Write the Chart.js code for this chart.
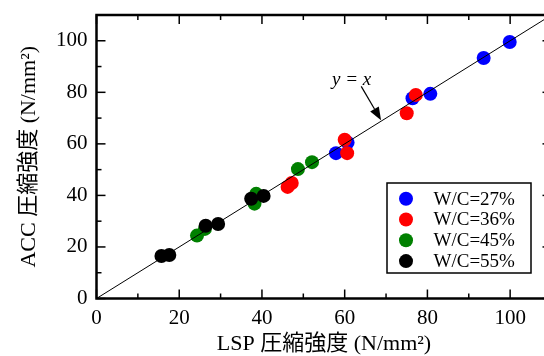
<!DOCTYPE html>
<html>
<head>
<meta charset="utf-8">
<script src="https://cdn.jsdelivr.net/npm/chart.js@4/dist/chart.umd.min.js"></script>
<style>
  html, body { margin: 0; padding: 0; overflow: hidden; background: #fff; }
  canvas { display: block; }
</style>
</head>
<body>
<canvas id="chart" width="560" height="356"></canvas>
<script>
// Compressive strength: LSP (x) vs ACC (y), grouped by water-cement ratio
const seriesLabels = ['W/C=27%', 'W/C=36%', 'W/C=45%', 'W/C=55%'];
const seriesColors = ['#0000ff', '#ff0000', '#008000', '#000000'];

const lspWc27 = [99.9, 93.6, 80.7, 76.4, 57.9, 60.7];
const accWc27 = [99.5, 93.3, 79.4, 77.7, 56.4, 60.5];

const lspWc36 = [77.2, 75.0, 60.0, 60.6, 46.2, 47.2];
const accWc36 = [79.0, 71.9, 61.6, 56.4, 43.3, 44.8];

const lspWc45 = [48.7, 52.1, 24.3, 26.2, 38.2, 38.6];
const accWc45 = [50.2, 52.9, 24.4, 27.0, 36.8, 40.6];

const lspWc55 = [15.7, 17.6, 26.4, 29.4, 37.4, 40.4];
const accWc55 = [16.5, 16.9, 28.2, 28.9, 38.7, 39.8];

const tickValues = [0, 20, 40, 60, 80, 100];
const minorTickValues = [10, 30, 50, 70, 90, 110];
const axisRange = [0, 110];
const equalityLine = [0, 110];

// "y = x" callout: label position, arrow start and arrow tip (data units)
const calloutText = 'y = x';
const calloutLabel = [61.7, 84.6];
const calloutFrom = [64.0, 82.3];
const calloutTip = [68.8, 69.2];

const xTitle = 'LSP 圧縮強度 (N/mm²)';
const yTitle = 'ACC 圧縮強度 (N/mm²)';

const FAMILY = "'Liberation Serif', 'Noto Sans CJK JP', serif";
const toPoints = (xs, ys) => xs.map((v, i) => ({ x: v, y: ys[i] }));
const seriesX = [lspWc27, lspWc36, lspWc45, lspWc55];
const seriesY = [accWc27, accWc36, accWc45, accWc55];

// later groups sit on top of earlier ones
const scatterSets = seriesLabels.map((label, i) => ({
  type: 'scatter',
  label,
  data: toPoints(seriesX[i], seriesY[i]),
  backgroundColor: seriesColors[i],
  borderColor: seriesColors[i],
  borderWidth: 0,
  pointRadius: 7,
  pointHoverRadius: 7,
  order: seriesLabels.length - i
}));

const lineSet = {
  type: 'line',
  label: 'y=x',
  data: toPoints(equalityLine, equalityLine),
  borderColor: '#000',
  borderWidth: 1,
  pointRadius: 0,
  fill: false,
  order: -1
};

const line = (ctx, x1, y1, x2, y2) => {
  ctx.beginPath(); ctx.moveTo(x1, y1); ctx.lineTo(x2, y2); ctx.stroke();
};

// axis frame with inward ticks on all four sides
const framePlugin = {
  id: 'frame',
  afterDraw(chart) {
    const { ctx, chartArea: { left, right, top, bottom }, scales: { x, y } } = chart;
    ctx.save();
    ctx.strokeStyle = '#000';
    ctx.lineWidth = 1.5;
    const marks = (vals, len) => vals.forEach(v => {
      const px = x.getPixelForValue(v);
      if (px >= left && px <= right) {
        line(ctx, px, bottom, px, bottom - len);
        line(ctx, px, top, px, top + len);
      }
      const py = y.getPixelForValue(v);
      if (py >= top && py <= bottom) {
        line(ctx, left, py, left + len, py);
        line(ctx, right, py, right - len, py);
      }
    });
    marks(tickValues, 9);
    marks(minorTickValues, 5);
    ctx.lineWidth = 2.5;
    ctx.strokeRect(left, top, right - left, bottom - top);
    ctx.restore();
  }
};

// "y = x" label with an arrow pointing at the equality line
const calloutPlugin = {
  id: 'callout',
  afterDraw(chart) {
    const { ctx, scales: { x, y } } = chart;
    const lx = x.getPixelForValue(calloutLabel[0]), ly = y.getPixelForValue(calloutLabel[1]);
    const fx = x.getPixelForValue(calloutFrom[0]), fy = y.getPixelForValue(calloutFrom[1]);
    const tx = x.getPixelForValue(calloutTip[0]), ty = y.getPixelForValue(calloutTip[1]);
    ctx.save();
    ctx.fillStyle = '#000';
    ctx.strokeStyle = '#000';
    ctx.font = "italic 19px " + FAMILY;
    ctx.textAlign = 'center';
    ctx.textBaseline = 'middle';
    ctx.fillText(calloutText, lx, ly);
    const ang = Math.atan2(ty - fy, tx - fx);
    const head = 13, half = 5;
    const bx = tx - head * Math.cos(ang), by = ty - head * Math.sin(ang);
    ctx.lineWidth = 1.2;
    line(ctx, fx, fy, bx, by);
    ctx.beginPath();
    ctx.moveTo(tx, ty);
    ctx.lineTo(bx + half * Math.sin(ang), by - half * Math.cos(ang));
    ctx.lineTo(bx - half * Math.sin(ang), by + half * Math.cos(ang));
    ctx.closePath();
    ctx.fill();
    ctx.restore();
  }
};

// boxed legend in the lower right of the plot
const legendPlugin = {
  id: 'boxLegend',
  afterDraw(chart) {
    const { ctx, chartArea: { right, bottom } } = chart;
    const w = 144, h = 90;
    const bx = right - 20.5 - w, by = bottom - 25.5 - h;
    ctx.save();
    ctx.fillStyle = '#fff';
    ctx.fillRect(bx, by, w, h);
    ctx.strokeStyle = '#000';
    ctx.lineWidth = 1.5;
    ctx.strokeRect(bx, by, w, h);
    ctx.font = "19px " + FAMILY;
    ctx.textBaseline = 'middle';
    ctx.textAlign = 'left';
    seriesLabels.forEach((lab, i) => {
      const cy = by + 15.7 + i * 20.8;
      ctx.fillStyle = seriesColors[i];
      ctx.beginPath();
      ctx.arc(bx + 19, cy, 7, 0, Math.PI * 2);
      ctx.fill();
      ctx.fillStyle = '#000';
      ctx.fillText(lab, bx + 46.5, cy + 1);
    });
    ctx.restore();
  }
};

const setTicks = scale => { scale.ticks = tickValues.map(v => ({ value: v })); };

new Chart(document.getElementById('chart'), {
  data: { datasets: [lineSet, ...scatterSets] },
  options: {
    responsive: false,
    animation: false,
    devicePixelRatio: 1,
    layout: { padding: { top: 15, right: 8.5, left: 0, bottom: 0 } },
    plugins: {
      legend: { display: false },
      tooltip: { enabled: false }
    },
    scales: {
      x: {
        type: 'linear',
        min: axisRange[0],
        max: axisRange[1],
        afterBuildTicks: setTicks,
        afterFit: s => { s.height = 57.5; },
        grid: { display: false, drawTicks: false },
        border: { display: false },
        ticks: { font: { family: FAMILY, size: 21 }, color: '#000', padding: 7, maxRotation: 0, autoSkip: false },
        title: { display: true, text: xTitle, font: { family: FAMILY, size: 22, lineHeight: 1.05 }, color: '#000', padding: { top: 0, bottom: 0 } }
      },
      y: {
        type: 'linear',
        min: axisRange[0],
        max: axisRange[1],
        afterBuildTicks: setTicks,
        afterFit: s => { s.width = 96.5; },
        grid: { display: false, drawTicks: false },
        border: { display: false },
        ticks: { font: { family: FAMILY, size: 21, lineHeight: 0.5 }, color: '#000', padding: 9, autoSkip: false },
        title: { display: true, text: yTitle, font: { family: FAMILY, size: 22 }, color: '#000', padding: { top: 16, bottom: 0 } }
      }
    }
  },
  plugins: [framePlugin, calloutPlugin, legendPlugin]
});
</script>
</body>
</html>
